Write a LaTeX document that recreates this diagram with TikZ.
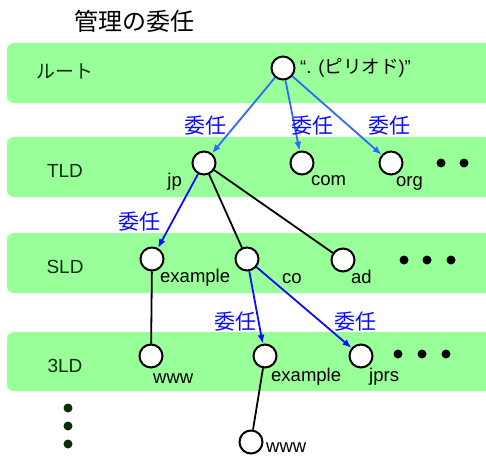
\documentclass[tikz,border=0pt]{standalone}
\usepackage{fontspec}
\setmainfont{Liberation Sans}
\newfontfamily\cjk{Noto Sans CJK JP}
\usepackage{tikz}
\usetikzlibrary{arrows.meta,positioning}
\definecolor{bandgreen}{RGB}{153,255,153}
\definecolor{tiergreen}{RGB}{10,45,10}
\definecolor{rootblue}{RGB}{51,102,255}
\definecolor{delblue}{RGB}{10,10,255}

\begin{document}
\begin{tikzpicture}[
      x=1pt, y=-1pt, >={Latex[length=9pt,width=7pt]},
      band/.style={fill=bandgreen, rounded corners=7pt},
      tier/.style={text=tiergreen, inner sep=0pt, font=\fontsize{19}{19}\selectfont},
      dom/.style={circle, draw, line width=2pt, fill=white, minimum size=23pt, inner sep=0pt},
      dlabel/.style={inner sep=0pt, anchor=base west, font=\fontsize{18.5}{18.5}\selectfont},
      dele/.style={text=delblue, inner sep=0pt, font=\cjk\fontsize{21}{21}\selectfont},
      more/.style={circle, fill=black, minimum size=9pt, inner sep=0pt},
      link/.style={line width=1.8pt},
      deleg/.style={->, line width=1.8pt, draw=delblue},
    ]
    \useasboundingbox (0,0) rectangle (486,457);
    \clip (0,0) rectangle (486,457);

    % zone bands
    \fill[band] (7,43) rectangle (510,103);
    \fill[band] (7,137) rectangle (510,197);
    \fill[band] (7,233) rectangle (510,293);
    \fill[band] (7,332) rectangle (510,391);

    \node[inner sep=0pt, font=\cjk\fontsize{24}{24}\selectfont] (title) at (134,21) {管理の委任};

    \node[tier, font=\cjk\fontsize{19}{19}\selectfont] (troot) at (65,71) {ルート};
    \node[tier] (ttld) at (65,171) {TLD};
    \node[tier] (tsld) at (65,267) {SLD};
    \node[tier] (t3ld) at (65,366) {3LD};

    % domain nodes
    \node[dom] (root) at (283,68) {};
    \node[dom] (jp) at (204,163) {};
    \node[dom] (com) at (302,163) {};
    \node[dom] (org) at (391,163) {};
    \node[dom] (example) at (152,259) {};
    \node[dom] (co) at (247,259) {};
    \node[dom] (ad) at (343,260) {};
    \node[dom] (www) at (151,356) {};
    \node[dom] (coexample) at (265,356) {};
    \node[dom] (jprs) at (361,356) {};
    \node[dom] (cowww) at (251,442) {};

    % names
    \node[dlabel] (lroot) at (300,74) {“. ({\cjk ピリオド})”};
    \node[dlabel, anchor=base east] (ljp) at (182,186) {jp};
    \node[dlabel] (lcom) at (311,185) {com};
    \node[dlabel] (lorg) at (396,186) {org};
    \node[dlabel] (lexample) at (160,282) {example};
    \node[dlabel] (lco) at (282,283) {co};
    \node[dlabel] (lad) at (351,283) {ad};
    \node[dlabel] (lwww) at (153,383) {www};
    \node[dlabel] (lcoexample) at (271,381) {example};
    \node[dlabel] (ljprs) at (369,381) {jprs};
    \node[dlabel] (lcowww) at (266,452) {www};

    % more siblings
    \foreach \x [count=\i] in {441,464}
      \node[more] (tdot\i) at (\x,163) {};
    \foreach \x [count=\i] in {404,427,451}
      \node[more] (sdot\i) at (\x,260) {};
    \foreach \x [count=\i] in {398,422,446}
      \node[more] (ddot\i) at (\x,354) {};
    \foreach \y [count=\i] in {408,426,444}
      \node[more, fill=tiergreen] (vdot\i) at (68,\y) {};

    % delegation
    \draw[deleg, draw=rootblue] (root) -- (jp);
    \draw[deleg, draw=rootblue] (root) -- (com);
    \draw[deleg, draw=rootblue] (root) -- (org);
    \draw[deleg] (jp) -- (example);
    \draw[deleg] (co) -- (coexample);
    \draw[deleg] (co) -- (jprs);

    \node[dele] (d1) at (205,126) {委任};
    \node[dele] (d2) at (312,126) {委任};
    \node[dele] (d3) at (389,126) {委任};
    \node[dele] (d4) at (139,222) {委任};
    \node[dele] (d5) at (235,322) {委任};
    \node[dele] (d6) at (355,322) {委任};

    % plain links
    \draw[link] (jp) -- (co);
    \draw[link] (jp) -- (ad);
    \draw[link] (example) -- (www);
    \draw[link] (coexample) -- (cowww);
  \end{tikzpicture}
\end{document}
